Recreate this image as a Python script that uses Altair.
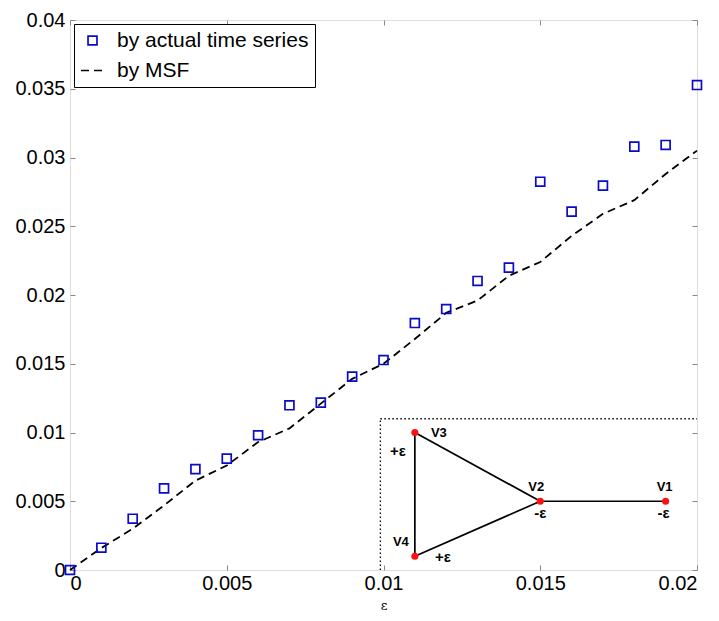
import altair as alt
import pandas as pd

# ---- data ----
eps = [0.000, 0.001, 0.002, 0.003, 0.004, 0.005, 0.006, 0.007, 0.008, 0.009, 0.010,
       0.011, 0.012, 0.013, 0.014, 0.015, 0.016, 0.017, 0.018, 0.019, 0.020]
actual = [0.0000, 0.00162, 0.00373, 0.00594, 0.00734, 0.0081, 0.0098, 0.01198, 0.01217,
          0.01406, 0.01527, 0.01796, 0.01898, 0.02102, 0.02199, 0.02824, 0.02606, 0.02795,
          0.03079, 0.03091, 0.03527]
msf = [0.0, 0.0016, 0.0030, 0.0047, 0.0065, 0.0076, 0.0093, 0.0103, 0.0121, 0.0139, 0.0150,
       0.0168, 0.0187, 0.0196, 0.0214, 0.0224, 0.0243, 0.0259, 0.0269, 0.0288, 0.0305]
series_names = ["by actual time series", "by MSF"]

x_ticks = [0, 0.005, 0.01, 0.015, 0.02]
y_ticks = [0, 0.005, 0.01, 0.015, 0.02, 0.025, 0.03, 0.035, 0.04]

# inset network (drawn in data coordinates)
node_names = ["V1", "V2", "V3", "V4"]
node_x = [0.019, 0.015, 0.011, 0.011]
node_y = [0.005, 0.005, 0.010, 0.001]
node_charge = ["-ε", "-ε", "+ε", "+ε"]
edge_from = ["V1", "V2", "V3", "V4"]
edge_to = ["V2", "V3", "V4", "V2"]
inset_left = 0.0099
inset_top = 0.011

# ---- tables ----
pts = pd.DataFrame({"eps": eps, "val": actual, "series": series_names[0]})
line = pd.DataFrame({"eps": eps, "val": msf, "series": series_names[1]})
nodes = pd.DataFrame({"name": node_names, "x": node_x, "y": node_y, "charge": node_charge})
pos = {n: (a, b) for n, a, b in zip(node_names, node_x, node_y)}
edges = pd.DataFrame({
    "x": [pos[a][0] for a in edge_from], "y": [pos[a][1] for a in edge_from],
    "x2": [pos[b][0] for b in edge_to], "y2": [pos[b][1] for b in edge_to],
})
box = pd.DataFrame({
    "x": [inset_left, inset_left], "y": [0.0, inset_top],
    "x2": [inset_left, x_ticks[-1]], "y2": [inset_top, inset_top],
})

xs = alt.Scale(domain=[x_ticks[0], x_ticks[-1]], nice=False, zero=False)
ys = alt.Scale(domain=[y_ticks[0], y_ticks[-1]], nice=False, zero=False)
cs = alt.Scale(domain=series_names, range=["#0a0ac8", "#000000"])
ss = alt.Scale(domain=series_names, range=["square", "stroke"])
zs = alt.Scale(domain=series_names, range=[80, 529])
ds = alt.Scale(domain=series_names, range=[[1, 0], [8, 5]])

FONT = "Liberation Sans"

x_axis = alt.Axis(orient="bottom", values=x_ticks, format="~g", title="ε", offset=-5, tickSize=5,
                  domain=False, grid=False, labelPadding=3, labelFontSize=20, labelFont=FONT,
                  titleFontSize=13, titleFontWeight="normal", titlePadding=6, titleFont="DejaVu Serif")
y_axis = alt.Axis(orient="left", values=y_ticks, format="~g", title=None, offset=-5, tickSize=5,
                  domain=False, grid=False, labelPadding=5, labelFontSize=20, labelFont=FONT)
x_top = alt.Axis(orient="top", values=x_ticks, labels=False, title=None, offset=-5, tickSize=5,
                 domain=False, grid=False)
y_right = alt.Axis(orient="right", values=y_ticks, labels=False, title=None, offset=-5, tickSize=5,
                   domain=False, grid=False)

legend = alt.Legend(
    title=None, orient="none", legendX=4, legendY=4, strokeColor="black", fillColor="white",
    labelFontSize=21, labelFont=FONT, labelColor="black", labelLimit=400,
    symbolStrokeWidth=1.7, labelOffset=12, cornerRadius=0, symbolFillColor="transparent",
    padding=6, rowPadding=7,
)

points_layer = alt.Chart(pts).mark_point(shape="square", filled=False, size=80, strokeWidth=1.7, opacity=1).encode(
    x=alt.X("eps:Q", scale=xs, axis=x_axis),
    y=alt.Y("val:Q", scale=ys, axis=y_axis),
    color=alt.Color("series:N", scale=cs, legend=legend),
    shape=alt.Shape("series:N", scale=ss, legend=legend),
    size=alt.Size("series:O", scale=zs, legend=legend),
)
line_layer = alt.Chart(line).mark_line(strokeWidth=1.8).encode(
    x=alt.X("eps:Q", scale=xs, axis=None),
    y=alt.Y("val:Q", scale=ys, axis=None),
    color=alt.Color("series:N", scale=cs, legend=legend),
    strokeDash=alt.StrokeDash("series:N", scale=ds, legend=legend),
)
box_layer = alt.Chart(box).mark_rule(color="black", strokeWidth=1.3, strokeDash=[1.5, 2.5]).encode(
    x=alt.X("x:Q", scale=xs, axis=x_top), y=alt.Y("y:Q", scale=ys, axis=y_right),
    x2="x2:Q", y2="y2:Q",
)
edge_layer = alt.Chart(edges).mark_rule(color="black", strokeWidth=1.7).encode(
    x=alt.X("x:Q", scale=xs, axis=None), y=alt.Y("y:Q", scale=ys, axis=None), x2="x2:Q", y2="y2:Q",
)
node_layer = alt.Chart(nodes).mark_circle(color="#ff1010", size=50, opacity=1).encode(
    x=alt.X("x:Q", scale=xs, axis=None), y=alt.Y("y:Q", scale=ys, axis=None),
)

name_offsets = {"V1": (-1, -14), "V2": (-4, -14), "V3": (24, 0), "V4": (-14, -14)}
charge_offsets = {"V1": (-2, 12), "V2": (0, 12), "V3": (-17, 18), "V4": (28, 1)}
text_layers = []
for n in node_names:
    dx, dy = name_offsets[n]
    text_layers.append(
        alt.Chart(nodes).transform_filter(alt.datum.name == n).mark_text(
            font=FONT, fontSize=13, fontWeight="bold", color="black", dx=dx, dy=dy
        ).encode(x=alt.X("x:Q", scale=xs, axis=None), y=alt.Y("y:Q", scale=ys, axis=None), text="name:N")
    )
    dx, dy = charge_offsets[n]
    text_layers.append(
        alt.Chart(nodes).transform_filter(alt.datum.name == n).mark_text(
            font=FONT, fontSize=15, fontWeight="bold", color="black", dx=dx, dy=dy
        ).encode(x=alt.X("x:Q", scale=xs, axis=None), y=alt.Y("y:Q", scale=ys, axis=None), text="charge:N")
    )

chart = alt.layer(
    box_layer, edge_layer, node_layer, *text_layers, line_layer, points_layer
).properties(
    width=627, height=550,
    autosize=alt.AutoSizeParams(type="none"),
    padding={"left": 62, "top": 12, "right": 14, "bottom": 50},
).configure_view(
    stroke="black", strokeWidth=1
).configure_axis(
    labelFont=FONT, labelFontSize=20, labelColor="black", tickColor="black", tickWidth=1,
    titleColor="black"
).configure(background="white")

chart.save("out.html", embed_options={"renderer": "svg", "actions": False})
